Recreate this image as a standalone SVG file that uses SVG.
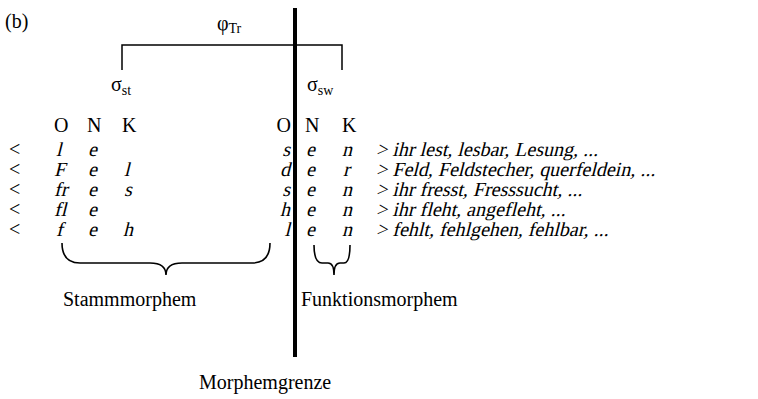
<svg xmlns="http://www.w3.org/2000/svg" width="758" height="399" viewBox="0 0 758 399">
  <style>
    text { font-family: "Liberation Serif", serif; font-size: 20px; fill: #000; }
    .sub { font-size: 14px; }
    .thin { fill: none; stroke: #000; stroke-width: 1.5; }
    .brace { fill: none; stroke: #000; stroke-width: 1.6; }
  </style>
  <defs>
    <!-- rows are set in a slanted serif: each row group is skewed about its baseline -->
  </defs>

  <text x="5" y="28" font-size="23px">(b)</text>

  <!-- prosodic foot above the two syllables -->
  <g id="foot">
    <text x="217" y="30">φ<tspan class="sub" dy="3">Tr</tspan></text>
    <path class="thin" d="M122,70 V45 H342 V70"/>
  </g>

  <g id="syll-st">
    <text x="111" y="91">σ<tspan class="sub" dy="4">st</tspan></text>
  </g>
  <g id="syll-sw">
    <text x="307" y="91">σ<tspan class="sub" dy="4">sw</tspan></text>
  </g>

  <!-- morpheme boundary -->
  <g id="boundary">
    <rect x="293" y="8" width="4" height="349" fill="#000"/>
    <text x="199" y="389">Morphemgrenze</text>
  </g>

  <!-- column heads -->
  <g id="heads">
    <text x="54" y="132">O</text>
    <text x="87" y="132">N</text>
    <text x="122" y="132">K</text>
    <text x="291" y="132" text-anchor="end">O</text>
    <text x="305" y="132">N</text>
    <text x="342" y="132">K</text>
  </g>

  <!-- rows -->
  <g id="rows">
    <text x="9" y="156">&lt;</text>
    <text x="9" y="176">&lt;</text>
    <text x="9" y="196">&lt;</text>
    <text x="9" y="216">&lt;</text>
    <text x="9" y="236">&lt;</text>

    <g transform="translate(0,156) skewX(-14)">
      <text x="56" y="0">l</text>
      <text x="88" y="0">e</text>
      <text x="290" y="0" text-anchor="end">s</text>
      <text x="306" y="0">e</text>
      <text x="342" y="0">n</text>
      <text x="376" y="0">&gt; ihr lest, lesbar, Lesung, ...</text>
    </g>
    <g transform="translate(0,176) skewX(-14)">
      <text x="54" y="0">F</text>
      <text x="88" y="0">e</text>
      <text x="124" y="0">l</text>
      <text x="290" y="0" text-anchor="end">d</text>
      <text x="306" y="0">e</text>
      <text x="343" y="0">r</text>
      <text x="376" y="0">&gt; Feld, Feldstecher, querfeldein, ...</text>
    </g>
    <g transform="translate(0,196) skewX(-14)">
      <text x="54" y="0">fr</text>
      <text x="88" y="0">e</text>
      <text x="124" y="0">s</text>
      <text x="290" y="0" text-anchor="end">s</text>
      <text x="306" y="0">e</text>
      <text x="342" y="0">n</text>
      <text x="376" y="0">&gt; ihr fresst, Fresssucht, ...</text>
    </g>
    <g transform="translate(0,216) skewX(-14)">
      <text x="54" y="0">fl</text>
      <text x="88" y="0">e</text>
      <text x="290" y="0" text-anchor="end">h</text>
      <text x="306" y="0">e</text>
      <text x="342" y="0">n</text>
      <text x="376" y="0">&gt; ihr fleht, angefleht, ...</text>
    </g>
    <g transform="translate(0,236) skewX(-14)">
      <text x="56" y="0">f</text>
      <text x="88" y="0">e</text>
      <text x="123" y="0">h</text>
      <text x="290" y="0" text-anchor="end">l</text>
      <text x="306" y="0">e</text>
      <text x="342" y="0">n</text>
      <text x="376" y="0">&gt; fehlt, fehlgehen, fehlbar, ...</text>
    </g>
  </g>

  <!-- underbraces and morpheme labels -->
  <g id="stem">
    <path class="brace" d="M62,243 Q62,263 80,263 H150 Q166,263 166,275 Q166,263 182,263 H252 Q270,263 270,243"/>
    <text x="63" y="306">Stammmorphem</text>
  </g>
  <g id="function">
    <path class="brace" d="M314,245 Q314,263 322,263 H328 Q334,263 334,275 Q334,263 340,263 H344 Q350,263 350,245"/>
    <text x="301" y="306">Funktionsmorphem</text>
  </g>
</svg>
